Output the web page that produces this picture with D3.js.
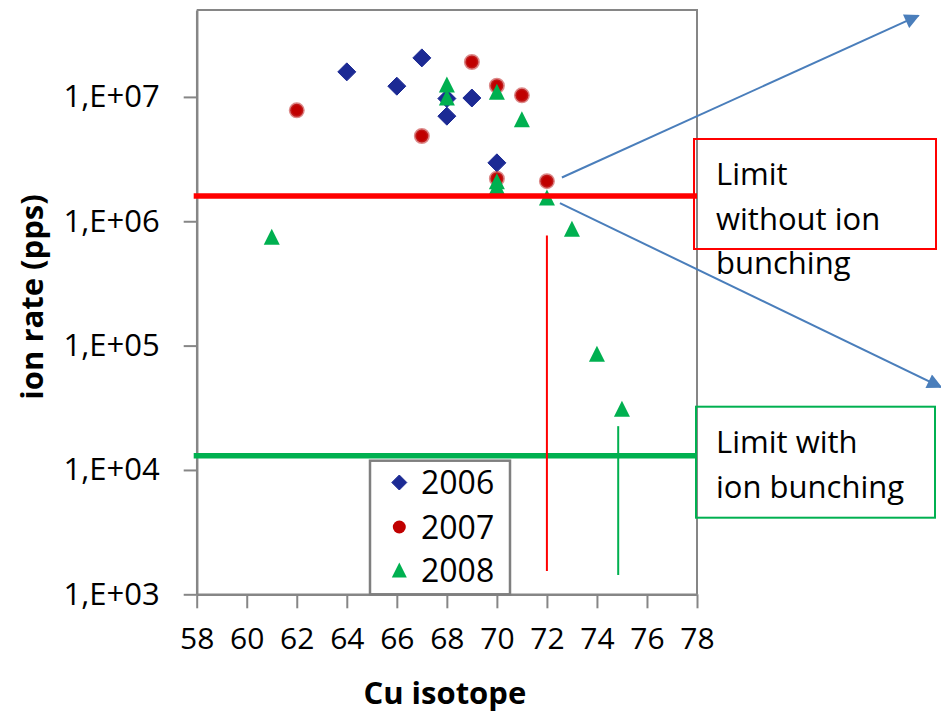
<!DOCTYPE html>
<html>
<head>
<meta charset="utf-8">
<script src="https://cdn.jsdelivr.net/npm/d3@7"></script>
<style>
  body { margin: 0; background: #fff; }
  text { font-family: "Open Sans", "Noto Sans", sans-serif; fill: #000; }
</style>
</head>
<body>
<script>
// Values: [Cu mass number, ion rate in pps]
const series2006 = [[64, 1.59e7], [66, 1.22e7], [67, 2.06e7], [68, 9.7e6], [68, 7.0e6], [69, 9.8e6], [70, 2.95e6]];
const series2007 = [[62, 7.8e6], [67, 4.85e6], [69, 1.91e7], [70, 1.23e7], [71, 1.03e7], [70, 2.2e6], [72, 2.1e6]];
const series2008 = [[61, 7.5e5], [68, 1.26e7], [68, 9.9e6], [70, 1.1e7], [70, 2.1e6], [70, 1.9e6],
                    [71, 6.6e6], [72, 1.55e6], [73, 8.7e5], [74, 8.6e4], [75, 3.1e4]];
const seriesNames = ["2006", "2007", "2008"];

const xTicks = [58, 60, 62, 64, 66, 68, 70, 72, 74, 76, 78];
const yTicks = [1e3, 1e4, 1e5, 1e6, 1e7];

// Rate limits without / with ion bunching
const limits = [1.6e6, 1.3e4];
// Vertical markers: [isotope, rate from, rate to]
const dropLines = [[72, 7.7e5, 1.54e3], [74.85, 2.25e4, 1.43e3]];
// Arrows: [[x0, y0], [x1, y1]] in data units
const arrows = [[[72.6, 2.25e6], [86.85, 4.5e7]], [[72.52, 1.4e6], [87.75, 4.64e4]]];

const boxLabels = [["Limit", "without ion", "bunching"], ["Limit with", "ion bunching"]];

const width = 941, height = 715;
const plot = { left: 196.7, right: 697, top: 10, bottom: 594.3 };

const blue = "#1c2a94", red = "#c00000", green = "#00b050", axisGrey = "#868686", arrowBlue = "#4a7ebb";

const svg = d3.select("body").append("svg")
  .attr("width", width)
  .attr("height", height);

const x = d3.scaleLinear().domain([58, 78]).range([plot.left, plot.right]);
const y = d3.scaleLog().domain([1e3, 5e7]).range([plot.bottom, plot.top]);

// Plot frame (top and right sides)
svg.append("path")
  .attr("d", `M${plot.left},${plot.top}H${plot.right}V${plot.bottom}`)
  .attr("fill", "none")
  .attr("stroke", axisGrey)
  .attr("stroke-width", 2);

let yAxis = svg.append("g")
  .attr("transform", `translate(${plot.left},0)`)
  .call(d3.axisLeft(y).tickValues(yTicks).tickSizeInner(13).tickSizeOuter(0).tickPadding(24)
    .tickFormat((d) => `1,E+0${Math.round(Math.log10(d))}`));

let xAxis = svg.append("g")
  .attr("transform", `translate(0,${plot.bottom})`)
  .call(d3.axisBottom(x).tickValues(xTicks).tickSizeInner(14).tickSizeOuter(0).tickPadding(19));

[xAxis, yAxis].forEach((g) => {
  g.select(".domain").attr("stroke", axisGrey).attr("stroke-width", 2.5);
  g.selectAll(".tick line").attr("stroke", axisGrey).attr("stroke-width", 2);
  g.selectAll("text").attr("font-family", '"Open Sans", sans-serif').attr("fill", "#000");
});
yAxis.selectAll("text").attr("font-size", 31);
xAxis.selectAll("text").attr("font-size", 30);

svg.append("text")
  .attr("x", (plot.left + plot.right) / 2 - 2)
  .attr("y", 704)
  .attr("text-anchor", "middle")
  .attr("font-size", 31)
  .attr("font-weight", "bold")
  .text("Cu isotope");

svg.append("text")
  .attr("transform", `translate(43,297) rotate(-90)`)
  .attr("text-anchor", "middle")
  .attr("font-size", 31)
  .attr("font-weight", "bold")
  .text("ion rate (pps)");

// Marker shapes
function diamond(s) {
  return `M0,${-s / 2}L${s / 2},0L0,${s / 2}L${-s / 2},0Z`;
}
function triangle(s) {
  return `M0,${-s / 2}L${s / 2},${s / 2}L${-s / 2},${s / 2}Z`;
}

function drawSeries(data, i, g) {
  let pts = g.selectAll(null).data(data).enter();
  if (i === 0) {
    pts.append("path")
      .attr("transform", (d) => `translate(${x(d[0])},${y(d[1])})`)
      .attr("d", diamond(18))
      .attr("fill", blue)
      .attr("stroke", blue)
      .attr("stroke-width", 1)
      .attr("stroke-linejoin", "round");
  } else if (i === 1) {
    pts.append("circle")
      .attr("cx", (d) => x(d[0]))
      .attr("cy", (d) => y(d[1]))
      .attr("r", 6.5)
      .attr("fill", red)
      .attr("stroke", "rgba(192,40,40,0.55)")
      .attr("stroke-width", 3);
  } else {
    pts.append("path")
      .attr("transform", (d) => `translate(${x(d[0])},${y(d[1])})`)
      .attr("d", triangle(16))
      .attr("fill", green);
  }
}

let marks = svg.append("g").attr("class", "marks");
[series2006, series2007, series2008].forEach((s, i) => drawSeries(s, i, marks));

// Limit lines
const limitColors = ["#ff0000", green];
svg.append("g").selectAll("line")
  .data(limits)
  .enter()
  .append("line")
  .attr("x1", x(58) - 3)
  .attr("x2", x(78))
  .attr("y1", (d) => y(d))
  .attr("y2", (d) => y(d))
  .attr("stroke", (d, i) => limitColors[i])
  .attr("stroke-width", 5.5);

svg.append("g").selectAll("line")
  .data(dropLines)
  .enter()
  .append("line")
  .attr("x1", (d) => x(d[0]))
  .attr("x2", (d) => x(d[0]))
  .attr("y1", (d) => y(d[1]))
  .attr("y2", (d) => y(d[2]))
  .attr("stroke", (d, i) => limitColors[i])
  .attr("stroke-width", 2);

// Arrows
svg.append("defs").append("marker")
  .attr("id", "head")
  .attr("viewBox", "0 0 10 10")
  .attr("refX", 9)
  .attr("refY", 5)
  .attr("markerUnits", "userSpaceOnUse")
  .attr("markerWidth", 17)
  .attr("markerHeight", 15)
  .attr("orient", "auto")
  .append("path")
  .attr("d", "M0,0L10,5L0,10Z")
  .attr("fill", arrowBlue);

svg.append("g").selectAll("line")
  .data(arrows)
  .enter()
  .append("line")
  .attr("x1", (d) => x(d[0][0]))
  .attr("y1", (d) => y(d[0][1]))
  .attr("x2", (d) => x(d[1][0]))
  .attr("y2", (d) => y(d[1][1]))
  .attr("stroke", arrowBlue)
  .attr("stroke-width", 2)
  .attr("marker-end", "url(#head)");

// Legend
let legend = svg.append("g");
legend.append("rect")
  .attr("x", 370)
  .attr("y", 460.7)
  .attr("width", 140)
  .attr("height", plot.bottom - 460.7)
  .attr("fill", "#fff")
  .attr("stroke", "#7f7f7f")
  .attr("stroke-width", 2.5);

const legendRows = [482.5, 527, 570];
seriesNames.forEach((name, i) => {
  let row = legend.append("g").attr("transform", `translate(0,${legendRows[i]})`);
  let sub = row.append("g").attr("transform", "translate(399.3,0)");
  if (i === 0) {
    sub.append("path").attr("d", diamond(15)).attr("fill", blue).attr("stroke", blue).attr("stroke-linejoin", "round");
  } else if (i === 1) {
    sub.append("circle").attr("r", 6.5).attr("fill", red);
  } else {
    sub.append("path").attr("d", triangle(15)).attr("fill", green);
  }
  row.append("text")
    .attr("x", 421)
    .attr("dy", "0.36em")
    .attr("font-size", 32)
    .text(name);
});

// Annotation boxes
const boxes = [
  { x: 694, y: 139, w: 242, h: 110, color: "#ff0000", baselines: [185, 229.5, 274] },
  { x: 696, y: 406.7, w: 239, h: 111, color: green, baselines: [453.3, 498] }
];
boxes.forEach((b, i) => {
  svg.append("rect")
    .attr("x", b.x)
    .attr("y", b.y)
    .attr("width", b.w)
    .attr("height", b.h)
    .attr("fill", "none")
    .attr("stroke", b.color)
    .attr("stroke-width", 2);
  boxLabels[i].forEach((line, j) => {
    svg.append("text")
      .attr("x", 716)
      .attr("y", b.baselines[j])
      .attr("font-size", 31)
      .text(line);
  });
});
</script>
</body>
</html>
